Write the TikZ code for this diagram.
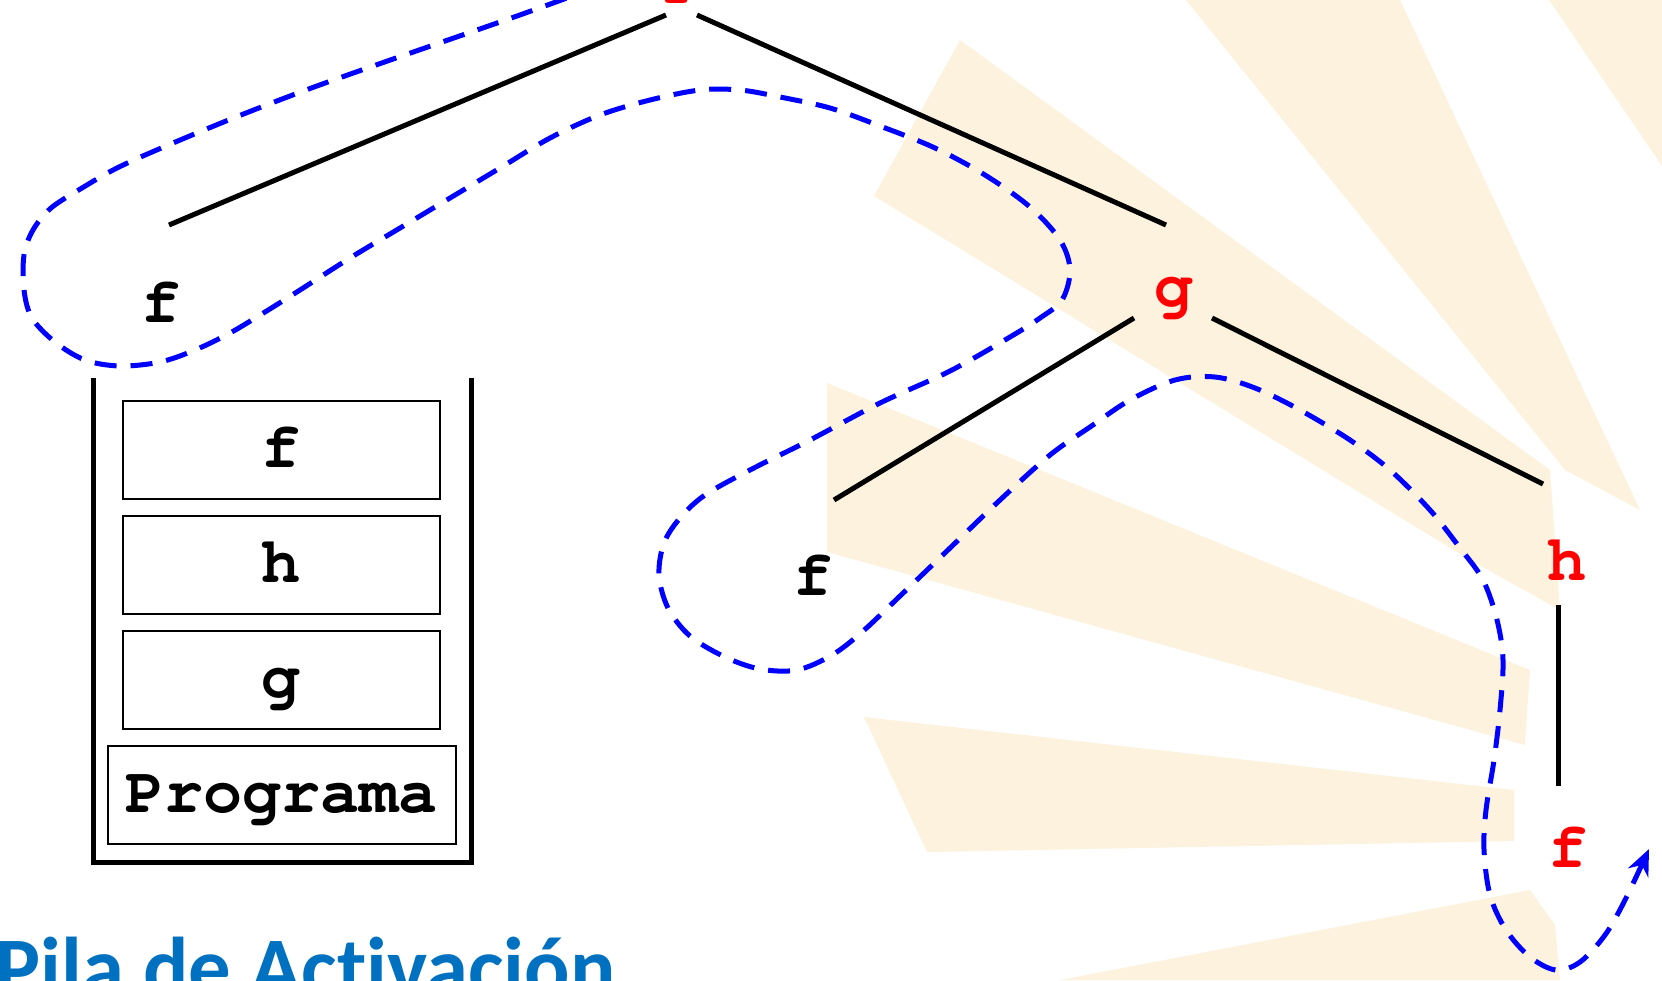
\documentclass[tikz,border=0pt]{standalone}
\usepackage{fontspec}
\setmonofont{TeX Gyre Cursor}
\newfontfamily\titlefont[Ligatures=NoCommon]{Carlito}
\usetikzlibrary{calc,positioning,arrows.meta}
\definecolor{rayo}{RGB}{252,242,222}
\definecolor{azultitulo}{RGB}{0,112,192}
\newcommand{\letra}{\ttfamily\bfseries\fontsize{18.5}{22}\selectfont}

\begin{document}
\begin{tikzpicture}[x=0.1mm,y=-0.1mm,
    nodo/.style={font=\letra, inner sep=0pt, anchor=base},
    activo/.style={nodo, text=red},
    arista/.style={line width=0.5mm},
    caja/.style={draw, line width=0.2mm, font=\letra, minimum width=31.7mm,
        minimum height=9.8mm, inner sep=0pt, text height=4.6mm, text depth=1.2mm},
    traza/.style={blue, line width=0.5mm, dash pattern=on 2.2mm off 1.4mm}]
    \useasboundingbox (0,0) rectangle (1662,980);

    % fondo
    \fill[rayo] (960,40) -- (874,196) -- (1470,560) -- (1560,610) -- (1550,470) -- cycle;
    \fill[rayo] (1186,0) -- (1400,0) -- (1640,510) -- (1565,470) -- cycle;
    \fill[rayo] (1549,0) -- (1662,0) -- (1662,166) -- cycle;
    \fill[rayo] (827,383) -- (827,552) -- (1525,745) -- (1530,670) -- cycle;
    \fill[rayo] (864,717) -- (927,852) -- (1514,841) -- (1514,790) -- cycle;
    \fill[rayo] (1060,980) -- (1530,890) -- (1555,925) -- (1560,980) -- cycle;

    % arbol de llamadas
    \node[activo] (raiz) at (684,3) {P};
    \node[nodo] (f1) at (161,322) {f};
    \node[activo] (g) at (1174,306) {g};
    \node[nodo] (f2) at (813,595) {f};
    \node[activo] (h) at (1567,580) {h};
    \node[activo] (f3) at (1568,867) {f};
    \draw[arista] ($(raiz.base)+(-18,12)$) -- ($(f1.base)+(8,-97)$);
    \draw[arista] ($(raiz.base)+(13,12)$) -- ($(g.base)+(-8,-81)$);
    \draw[arista] ($(g.base)+(-40,12)$) -- ($(f2.base)+(21,-95)$);
    \draw[arista] ($(g.base)+(38,12)$) -- ($(h.base)+(-24,-96)$);
    \draw[arista] ($(h.base)+(-9,25)$) -- ($(f3.base)+(-10,-81)$);

    % pila
    \draw[line width=0.5mm] (93,378) -- (93,862) -- (471,862) -- (471,378);
    \node[caja] (pf) at (281.5,450) {f};
    \node[caja, below=1.5mm of pf] (ph) {h};
    \node[caja, below=1.5mm of ph] (pg) {g};
    \node[caja, minimum width=34.8mm, below=1.5mm of pg] (prog) {Programa};
    \node[anchor=base west, inner sep=0pt, text=azultitulo,
        font=\titlefont\bfseries\fontsize{24.1}{28}\selectfont] (titulo) at (-5,996) {Pila de Activación};

    % recorrido
    \draw[traza, -{Stealth[length=2.6mm, width=2.2mm]}] plot[smooth, tension=0.55] coordinates {
        (600,-14) (517,16) (448,40) (376,65) (306,90) (236,117) (166,146) (117,168)
        (82,188) (51,208) (33,230) (24,255) (24,290) (32,318) (55,342) (85,360)
        (120,366) (160,362) (195,350) (230,333) (265,312) (300,290) (350,258) (400,228)
        (450,198) (500,168) (550,138) (600,115) (650,100) (700,90) (740,90) (780,97)
        (830,108) (880,126) (935,148) (985,175) (1030,207) (1060,240) (1070,270) (1062,300)
        (1040,318) (1010,337) (950,371) (880,403) (810,440) (750,470) (705,495) (680,518)
        (664,543) (659,575) (668,608) (690,636) (725,657) (760,669) (797,670) (832,655)
        (862,632) (900,596) (950,548) (1000,500) (1050,455) (1090,427) (1130,400) (1175,380)
        (1215,377) (1255,388) (1300,410) (1350,440) (1390,470) (1430,510) (1460,548) (1483,580)
        (1497,620) (1503,660) (1500,710) (1494,760) (1486,810) (1484,850) (1490,895) (1506,930)
        (1530,957) (1556,970) (1580,962) (1605,935) (1625,900) (1649,849)};
\end{tikzpicture}
\end{document}
